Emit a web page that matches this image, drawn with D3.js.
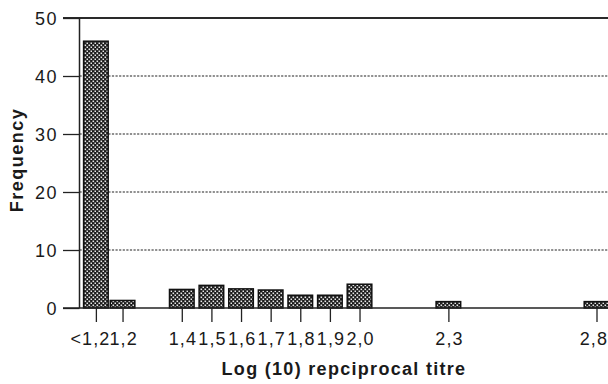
<!DOCTYPE html>
<html>
<head>
<meta charset="utf-8">
<script src="https://cdn.jsdelivr.net/npm/d3@7/dist/d3.min.js"></script>
<style>
  html, body { margin: 0; padding: 0; background: #fff; }
  svg { display: block; }
  text { font-family: "Liberation Sans", Arial, Helvetica, sans-serif; fill: #1a1a1a; }
</style>
</head>
<body>
<svg id="chart" width="608" height="384"></svg>
<script>
// ---- data ----
const categories = ["<1,2", "1,2", "1,4", "1,5", "1,6", "1,7", "1,8", "1,9", "2,0", "2,3", "2,8"];
const logTitre   = [1.11, 1.2, 1.4, 1.5, 1.6, 1.7, 1.8, 1.9, 2.0, 2.3, 2.8];
const frequency  = [46, 1.3, 3.2, 3.9, 3.3, 3.1, 2.2, 2.2, 4.1, 1.1, 1.1];
const yTicks     = [0, 10, 20, 30, 40, 50];
const xTitle = "Log (10) repciprocal titre";
const yTitle = "Frequency";

// ---- layout ----
const plotLeft = 79.5, plotTop = 18, plotBottom = 308, plotRight = 608;
const axisStart = 63;
const barWidthUnits = 0.083;

const svg = d3.select("#chart");

const x = d3.scaleLinear().domain([1.0, 2.8]).range([63.3, 596.5]);
const y = d3.scaleLinear().domain([0, 50]).range([plotBottom, plotTop]);

// dotted pattern for bars
const defs = svg.append("defs");
const pat = defs.append("pattern")
  .attr("id", "dots").attr("patternUnits", "userSpaceOnUse")
  .attr("width", 4).attr("height", 4);
pat.append("rect").attr("width", 4).attr("height", 4).attr("fill", "#1c1c1c");
pat.append("rect").attr("x", 0.5).attr("y", 0.5).attr("width", 1.6).attr("height", 1.6).attr("fill", "#e8e8e8");
pat.append("rect").attr("x", 2.5).attr("y", 2.5).attr("width", 1.6).attr("height", 1.6).attr("fill", "#e8e8e8");

// gridlines (dotted)
svg.append("g").selectAll("line")
  .data(yTicks.filter(d => d > 0 && d < 50))
  .join("line")
  .attr("x1", plotLeft).attr("x2", plotRight)
  .attr("y1", d => y(d)).attr("y2", d => y(d))
  .attr("stroke", "#222").attr("stroke-width", 1.2)
  .attr("stroke-dasharray", "2.2,1.4");

// top line
svg.append("line")
  .attr("x1", axisStart).attr("x2", plotRight)
  .attr("y1", y(50)).attr("y2", y(50))
  .attr("stroke", "#2a2a2a").attr("stroke-width", 2);

// bars
const bw = x(1 + barWidthUnits) - x(1);
svg.append("g").selectAll("rect")
  .data(categories.map((c, i) => ({ c, v: logTitre[i], f: frequency[i] })))
  .join("rect")
  .attr("x", d => x(d.v) - bw / 2)
  .attr("width", bw)
  .attr("y", d => y(d.f))
  .attr("height", d => y(0) - y(d.f))
  .attr("fill", "url(#dots)")
  .attr("stroke", "#111").attr("stroke-width", 1.5);

// y axis
const yAxis = d3.axisLeft(y).tickValues(yTicks).tickSize(plotLeft - axisStart).tickPadding(5);
const gy = svg.append("g").attr("transform", `translate(${plotLeft},0)`).call(yAxis);
gy.select(".domain").remove();
gy.selectAll(".tick line").attr("stroke", "#222").attr("stroke-width", 1.3);
gy.selectAll(".tick text")
  .attr("font-size", 18).attr("letter-spacing", "1.5px")
  .attr("fill", "#1a1a1a").attr("dy", "0.36em")
  .attr("font-family", "Liberation Sans, Arial, Helvetica, sans-serif");
svg.append("line")
  .attr("x1", plotLeft).attr("x2", plotLeft)
  .attr("y1", y(50)).attr("y2", y(0))
  .attr("stroke", "#222").attr("stroke-width", 1.5);

// x axis
const xAxis = d3.axisBottom(x).tickValues(logTitre)
  .tickFormat((d, i) => categories[i]).tickSize(14).tickPadding(10);
const gx = svg.append("g").attr("transform", `translate(0,${plotBottom})`).call(xAxis);
gx.select(".domain").remove();
gx.selectAll(".tick line").attr("stroke", "#222").attr("stroke-width", 1.3);
gx.selectAll(".tick text")
  .attr("font-size", 18).attr("letter-spacing", "1.1px")
  .attr("fill", "#1a1a1a")
  .attr("font-family", "Liberation Sans, Arial, Helvetica, sans-serif")
  .each(function (d, i, nodes) {
    const t = d3.select(this);
    if (i === 0) { t.attr("text-anchor", "end").attr("x", 14); }
    else if (i === nodes.length - 1) { t.attr("text-anchor", "end").attr("x", 11); }
    else { t.attr("dx", "0.55px"); }
  });
svg.append("line")
  .attr("x1", axisStart).attr("x2", plotRight)
  .attr("y1", y(0)).attr("y2", y(0))
  .attr("stroke", "#222").attr("stroke-width", 1.6);

// titles
svg.append("text")
  .attr("x", 344).attr("y", 375)
  .attr("text-anchor", "middle")
  .attr("font-size", 18).attr("font-weight", "bold")
  .attr("letter-spacing", "1.3px")
  .text(xTitle);

svg.append("text")
  .attr("transform", `translate(22.5,160) rotate(-90)`)
  .attr("text-anchor", "middle")
  .attr("font-size", 18).attr("font-weight", "bold")
  .attr("letter-spacing", "1.5px")
  .text(yTitle);
</script>
</body>
</html>
